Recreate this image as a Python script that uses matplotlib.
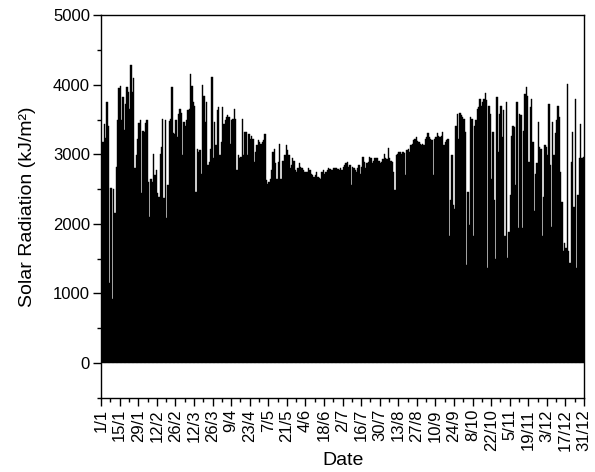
import matplotlib
matplotlib.use("Agg")
import matplotlib.pyplot as plt
import numpy as np
from matplotlib.ticker import MultipleLocator

plt.rcParams["font.family"] = ["Liberation Sans", "DejaVu Sans"]

# daily peak solar radiation (kJ/m2), 1 Jan .. 31 Dec
jan_feb = [2220, 3180, 3440, 3230, 3750, 3400, 1150, 2520, 920, 2500,
           2150, 2820, 3500, 3950, 3980, 3500, 3820, 3350, 3720, 3960,
           3900, 3650, 4290, 3900, 4100, 2800, 2990, 3220, 3450, 3500,
           2450, 3330, 3320, 3450, 3500, 2600, 2100, 2650, 2600, 3000,
           2700, 2780, 2450, 2380, 3000, 3100]
feb_apr = [3510, 2370, 3486, 2080, 2557, 3480, 3510, 3962, 3300,
           3295, 3486, 3250, 3580, 3650, 3600, 2990, 3460, 3410, 3486,
           3630, 3650, 4150, 3985, 3750, 3700, 2460, 3080, 3030, 3057,
           2720, 3995, 3840, 3460, 3750, 2840, 2890, 3080, 4105, 2940,
           3460, 3130, 3630, 3680, 2990, 3180]
apr_may = [3680, 3440, 3490, 3530, 3560, 3530, 3150, 3490, 3510, 3650,
           3510, 2770, 2990, 2940, 2960, 3510, 2990, 3320, 3320, 2990,
           3295, 3220, 3270, 3220, 2890, 3030, 3130, 3200, 3176, 3150,
           3176, 3200, 3295, 2630, 2580, 2600, 2650, 2770, 3030, 3080,
           2870, 2650, 2890, 3150, 2650, 2900]
may_jun = [2910, 2990, 3130, 3060, 2990, 2800, 2840, 2940, 2910,
           2770, 2750, 2800, 2880, 2820, 2810, 2770, 2750, 2740, 2750,
           2800, 2770, 2720, 2700, 2680, 2700, 2740, 2680, 2660, 2640,
           2750, 2770, 2720, 2750, 2770, 2800, 2790, 2770, 2780, 2810,
           2800, 2810, 2790, 2770, 2800, 2770]
jul_aug = [2820, 2840, 2870, 2890, 2820, 2840, 2560, 2820, 2800,
           2770, 2750, 2800, 2840, 2720, 2820, 2960, 2890, 2800, 2870,
           2890, 2960, 2940, 2870, 2910, 2940, 2940, 2950, 2910, 2870,
           2890, 2930, 3010, 2940, 2930, 3090, 2940, 2910, 2890, 2750,
           2490, 2990, 3010, 3030, 3030, 3010]
aug_sep = [3030, 3020, 2700, 3060, 3080, 3030, 3130, 3150, 3200, 3220,
           3250, 3190, 3170, 3150, 3130, 3150, 3130, 3220, 3250, 3300,
           3250, 3220, 3200, 2700, 3220, 3250, 3300, 3270, 3250, 3270,
           3320, 3130, 3170, 3200, 3220, 1820, 2340, 2990, 2270, 2220,
           3410, 3580, 3220, 3600, 3570, 3530]
sep_nov = [3510, 3320, 1410, 2460, 1990, 3530, 3510, 1820, 3410,
           3490, 3650, 3680, 3800, 3700, 3750, 3800, 3880, 3780, 1370,
           3700, 3580, 2650, 3320, 2340, 1490, 3820, 3030, 3580, 3700,
           3250, 3630, 1820, 3750, 1510, 1890, 2410, 3270, 3410, 3390,
           2560, 3750, 1940, 3580, 3560, 1940]
nov_dec = [3340, 3870, 3960, 3840, 2890, 3680, 3800, 3180, 2180, 2720,
           2870, 3460, 3100, 3080, 1820, 2390, 3130, 3100, 2990, 3720,
           2840, 1960, 3460, 2990, 3300, 3490, 3700, 3530, 2750, 2320,
           1610, 1720, 1650, 4010, 1610, 1440, 2890, 3320, 2250, 3800,
           1370, 2410, 2940, 3440, 2940, 2960]

peaks = jan_feb + feb_apr + apr_may + may_jun + jul_aug + aug_sep + sep_nov + nov_dec
tick_labels = ["1/1", "15/1", "29/1", "12/2", "26/2", "12/3", "26/3", "9/4",
               "23/4", "7/5", "21/5", "4/6", "18/6", "2/7", "16/7", "30/7",
               "13/8", "27/8", "10/9", "24/9", "8/10", "22/10", "5/11",
               "19/11", "3/12", "17/12", "31/12"]

days = np.arange(len(peaks))
last_day = 364

fig = plt.figure(figsize=(5.95, 4.72), dpi=100)
ax = fig.add_axes([0.170, 0.157, 0.8115, 0.811])

scale = last_day / len(peaks)
ax.bar(days * scale, peaks, width=scale, align="edge",
       color="black", edgecolor="black", linewidth=0.3)

ax.set_xlim(0, last_day)
ax.set_ylim(-500, 5000)
ax.set_xticks(np.arange(0, last_day + 1, 14))
ax.set_xticklabels(tick_labels, rotation=90)
ax.xaxis.set_minor_locator(MultipleLocator(7))
ax.yaxis.set_major_locator(MultipleLocator(1000))
ax.yaxis.set_minor_locator(MultipleLocator(500))
ax.tick_params(axis="both", which="major", direction="out", length=6,
               width=1, labelsize=12, pad=2)
ax.tick_params(axis="both", which="minor", direction="out", length=3, width=1)
ax.tick_params(top=False, right=False, which="both")
for sp in ax.spines.values():
    sp.set_linewidth(1)

ax.set_xlabel("Date", fontsize=14)
ax.xaxis.set_label_coords(0.5, -0.142)
ax.set_ylabel("Solar Radiation (kJ/m²)", fontsize=14, labelpad=12)

fig.savefig("out.png", dpi=100)
